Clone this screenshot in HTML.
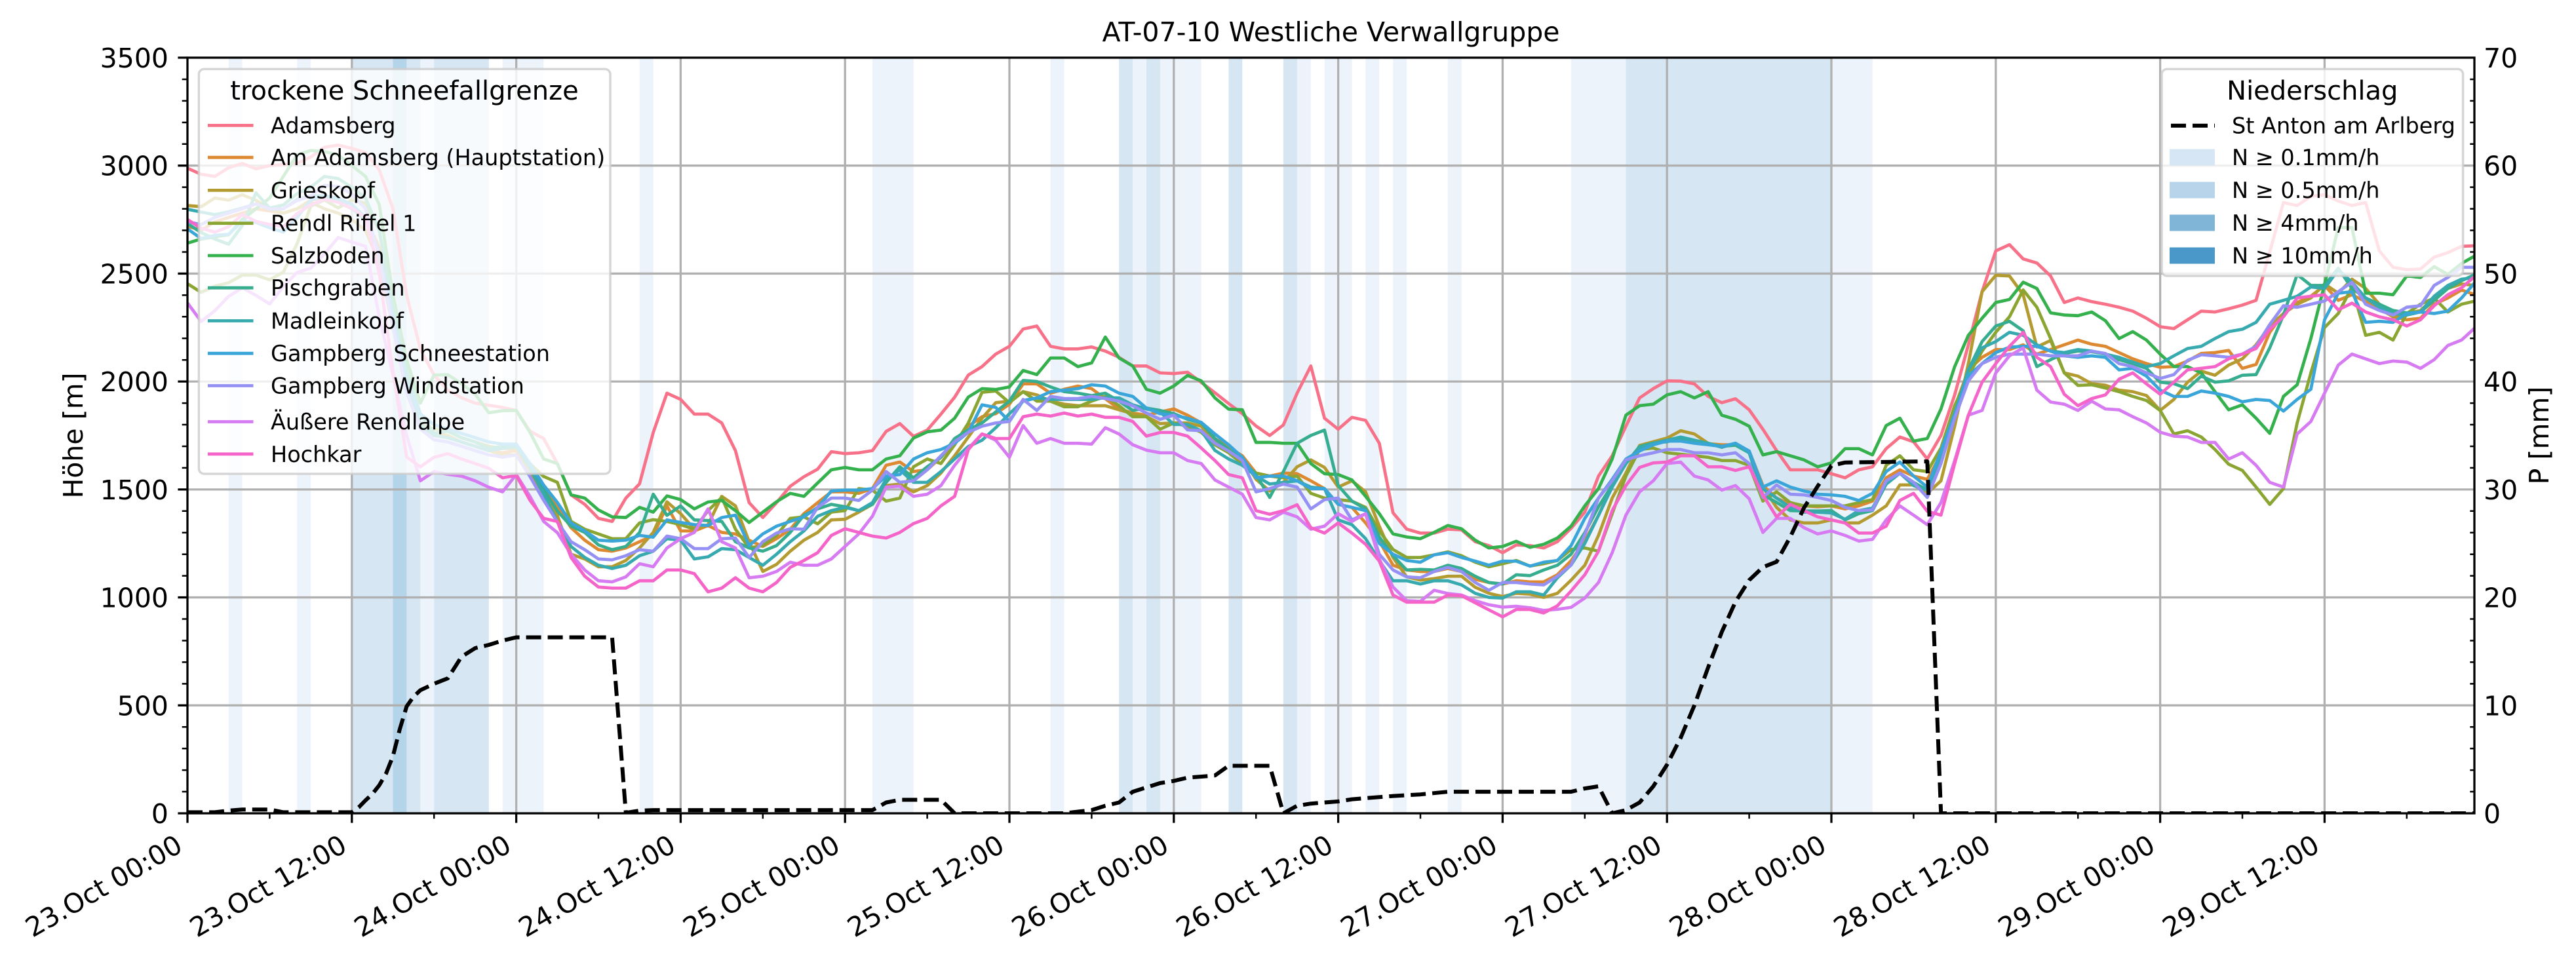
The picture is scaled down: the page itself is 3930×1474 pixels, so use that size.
<!DOCTYPE html>
<html><head><meta charset="utf-8">
<style>
html,body{margin:0;padding:0;background:#fff}
svg{display:block}
text{font-family:"DejaVu Sans","Liberation Sans",sans-serif;fill:#000}
</style></head><body>
<svg xmlns="http://www.w3.org/2000/svg" width="3930" height="1474" viewBox="0 0 3930 1474">
<rect width="3930" height="1474" fill="#fff"/>
<defs><clipPath id="ax"><rect x="286" y="88" width="3489" height="1153"/></clipPath></defs>

<!-- precipitation bands -->
<g clip-path="url(#ax)">
<g fill="#edf3fa">
<rect x="348.7" y="88" width="20.9" height="1153"/>
<rect x="453.2" y="88" width="20.9" height="1153"/>
<rect x="641.3" y="88" width="20.9" height="1153"/>
<rect x="766.7" y="88" width="62.7" height="1153"/>
<rect x="975.7" y="88" width="20.9" height="1153"/>
<rect x="1331" y="88" width="62.7" height="1153"/>
<rect x="1602.7" y="88" width="20.9" height="1153"/>
<rect x="1728.1" y="88" width="20.9" height="1153"/>
<rect x="1769.9" y="88" width="62.7" height="1153"/>
<rect x="1978.9" y="88" width="20.9" height="1153"/>
<rect x="2020.7" y="88" width="41.8" height="1153"/>
<rect x="2083.4" y="88" width="20.9" height="1153"/>
<rect x="2125.2" y="88" width="20.9" height="1153"/>
<rect x="2208.8" y="88" width="20.9" height="1153"/>
<rect x="2396.9" y="88" width="83.6" height="1153"/>
<rect x="2794" y="88" width="62.7" height="1153"/>
</g>
<g fill="#d6e6f3">
<rect x="536.8" y="88" width="62.7" height="1153"/>
<rect x="620.4" y="88" width="20.9" height="1153"/>
<rect x="662.2" y="88" width="83.6" height="1153"/>
<rect x="1707.2" y="88" width="20.9" height="1153"/>
<rect x="1749" y="88" width="20.9" height="1153"/>
<rect x="1874.4" y="88" width="20.9" height="1153"/>
<rect x="1958" y="88" width="20.9" height="1153"/>
<rect x="2480.5" y="88" width="313.5" height="1153"/>
</g>
<rect x="599.5" y="88" width="20.9" height="1153" fill="#b4d4e9"/>

<!-- grid -->
<g stroke="#b0b0b0" stroke-width="3.3" fill="none">
<path d="M536.8 88V1241M787.6 88V1241M1038.4 88V1241M1289.2 88V1241M1540 88V1241M1790.8 88V1241M2041.6 88V1241M2292.4 88V1241M2543.2 88V1241M2794 88V1241M3044.8 88V1241M3295.6 88V1241M3546.4 88V1241"/>
<path d="M286 1076.29H3775M286 911.57H3775M286 746.86H3775M286 582.14H3775M286 417.43H3775M286 252.71H3775"/>
</g>

<!-- series -->
<g transform="matrix(20.9 0 0 -0.329429 286 1241)" fill="none" stroke-width="4.8" stroke-linejoin="round">
<polyline vector-effect="non-scaling-stroke" stroke="#f77189" points="0,2988 1,2960 2,2950 3,2990 4,3010 5,2985 6,3000 7,3005 8,3010 9,3040 10,3085 11,3095 12,3080 13,3060 14,2980 15,2800 16,2400 17,2150 18,2030 19,1960 20,1925 21,1900 22,1890 23,1880 24,1866 25,1770 26,1736 27,1620 28,1475 29,1431 30,1366 31,1352 32,1460 33,1526 34,1764 35,1946 36,1917 37,1849 38,1849 39,1808 40,1680 41,1439 42,1370 43,1439 44,1515 45,1559 46,1594 47,1675 48,1666 49,1670 50,1680 51,1769 52,1805 53,1746 54,1775 55,1849 56,1927 57,2030 58,2069 59,2127 60,2163 61,2243 62,2257 63,2163 64,2151 65,2151 66,2160 67,2141 68,2112 69,2072 70,2072 71,2040 72,2037 73,2043 74,1996 75,1948 76,1898 77,1851 78,1794 79,1750 80,1799 81,1946 82,2072 83,1830 84,1779 85,1834 86,1820 87,1714 88,1392 89,1316 90,1298 91,1298 92,1316 93,1313 94,1258 95,1240 96,1207 97,1243 98,1240 99,1229 100,1258 101,1320 102,1395 103,1562 104,1656 105,1793 106,1924 107,1967 108,2003 109,2002 110,1989 111,1931 112,1902 113,1920 114,1869 115,1779 116,1680 117,1591 118,1591 119,1591 120,1573 121,1554 122,1591 123,1605 124,1689 125,1743 126,1721 127,1641 128,1750 129,1938 130,2170 131,2416 132,2605 133,2634 134,2568 135,2549 136,2489 137,2366 138,2387 139,2370 140,2358 141,2344 142,2326 143,2293 144,2254 145,2245 146,2286 147,2326 148,2322 149,2337 150,2354 151,2376 152,2600 153,2829 154,2815 155,2858 156,2865 157,2836 158,2815 159,2829 160,2605 161,2529 162,2518 163,2521 164,2576 165,2597 166,2626 167,2629"/>
<polyline vector-effect="non-scaling-stroke" stroke="#dc8932" points="0,2720 1,2700 2,2740 3,2760 4,2780 5,2800 6,2790 7,2780 8,2800 9,2840 10,2850 11,2830 12,2800 13,2760 14,2620 15,2300 16,2000 17,1800 18,1750 19,1740 20,1720 21,1700 22,1680 23,1670 24,1680 25,1600 26,1500 27,1420 28,1323 29,1265 30,1221 31,1214 32,1229 33,1258 34,1287 35,1424 36,1308 37,1308 38,1333 39,1301 40,1294 41,1265 42,1236 43,1272 44,1316 45,1388 46,1439 47,1489 48,1489 49,1482 50,1504 51,1612 52,1627 53,1583 54,1591 55,1649 56,1721 57,1793 58,1837 59,1851 60,1895 61,1989 62,1989 63,1946 64,1964 65,1979 66,1967 67,1920 68,1873 69,1854 70,1844 71,1859 72,1873 73,1844 74,1808 75,1736 76,1695 77,1656 78,1576 79,1562 80,1576 81,1573 82,1540 83,1504 84,1431 85,1417 86,1345 87,1261 88,1149 89,1127 90,1120 91,1120 92,1134 93,1120 94,1084 95,1069 96,1062 97,1077 98,1072 99,1072 100,1105 101,1170 102,1260 103,1380 104,1520 105,1620 106,1699 107,1715 108,1728 109,1728 110,1721 111,1712 112,1707 113,1707 114,1678 115,1518 116,1460 117,1431 118,1424 119,1420 120,1424 121,1410 122,1424 123,1446 124,1554 125,1591 126,1562 127,1547 128,1663 129,1880 130,2054 131,2112 132,2148 133,2148 134,2170 135,2127 136,2148 137,2170 138,2192 139,2173 140,2163 141,2134 142,2105 143,2083 144,2066 145,2069 146,2095 147,2130 148,2134 149,2144 150,2061 151,2079 152,2228 153,2315 154,2366 155,2395 156,2445 157,2376 158,2402 159,2370 160,2337 161,2300 162,2286 163,2293 164,2358 165,2387 166,2424 167,2402"/>
<polyline vector-effect="non-scaling-stroke" stroke="#b49b31" points="0,2815 1,2810 2,2850 3,2840 4,2865 5,2840 6,2800 7,2780 8,2800 9,2830 10,2800 11,2780 12,2750 13,2700 14,2550 15,2250 16,1950 17,1780 18,1760 19,1750 20,1720 21,1700 22,1680 23,1660 24,1660 25,1580 26,1480 27,1380 28,1200 29,1178 30,1142 31,1142 32,1171 33,1229 34,1301 35,1443 36,1388 37,1316 38,1337 39,1468 40,1424 41,1258 42,1120 43,1153 44,1214 45,1265 46,1301 47,1359 48,1362 49,1395 50,1431 51,1518 52,1525 53,1489 54,1518 55,1576 56,1656 57,1743 58,1830 59,1902 60,1909 61,1953 62,1938 63,1909 64,1895 65,1888 66,1888 67,1888 68,1869 69,1851 70,1837 71,1805 72,1808 73,1808 74,1793 75,1721 76,1685 77,1649 78,1547 79,1493 80,1533 81,1605 82,1637 83,1602 84,1511 85,1540 86,1489 87,1330 88,1185 89,1095 90,1080 91,1087 92,1098 93,1098 94,1047 95,1019 96,1004 97,1019 98,1015 99,1000 100,1019 101,1080 102,1149 103,1287 104,1460 105,1576 106,1704 107,1721 108,1738 109,1772 110,1757 111,1714 112,1699 113,1707 114,1670 115,1511 116,1417 117,1359 118,1345 119,1345 120,1359 121,1345 122,1345 123,1381 124,1424 125,1521 126,1521 127,1482 128,1540 129,1793 130,2083 131,2416 132,2492 133,2489 134,2402 135,2160 136,2190 137,2040 138,2025 139,1990 140,1983 141,1960 142,1953 143,1935 144,1866 145,1917 146,1997 147,2048 148,2029 149,2076 150,2105 151,2170 152,2257 153,2315 154,2358 155,2387 156,2452 157,2409 158,2474 159,2431 160,2358 161,2300 162,2315 163,2329 164,2387 165,2431 166,2452 167,2445"/>
<polyline vector-effect="non-scaling-stroke" stroke="#8aa532" points="0,2453 1,2413 2,2442 3,2457 4,2493 5,2493 6,2471 7,2507 8,2638 9,2812 10,2841 11,2804 12,2841 13,2826 14,2700 15,2350 16,2000 17,1800 18,1780 19,1770 20,1740 21,1720 22,1700 23,1690 24,1690 25,1620 26,1560 27,1533 28,1352 29,1316 30,1294 31,1272 32,1272 33,1345 34,1360 35,1352 36,1337 37,1316 38,1402 39,1463 40,1316 41,1229 42,1240 43,1287 44,1366 45,1373 46,1341 47,1395 48,1402 49,1504 50,1497 51,1446 52,1460 53,1605 54,1641 55,1620 56,1707 57,1808 58,1950 59,1956 60,1902 61,1953 62,1909 63,1909 64,1883 65,1883 66,1909 67,1931 68,1888 69,1837 70,1837 71,1779 72,1808 73,1793 74,1765 75,1707 76,1670 77,1620 78,1576 79,1562 80,1554 81,1562 82,1482 83,1460 84,1453 85,1446 86,1417 87,1308 88,1222 89,1185 90,1185 91,1197 92,1211 93,1193 94,1163 95,1142 96,1156 97,1171 98,1145 99,1156 100,1171 101,1222 102,1229 103,1214 104,1388 105,1562 106,1685 107,1692 108,1670 109,1663 110,1656 111,1649 112,1634 113,1634 114,1612 115,1446 116,1489 117,1439 118,1424 119,1424 120,1424 121,1424 122,1439 123,1453 124,1612 125,1656 126,1591 127,1583 128,1692 129,1888 130,2026 131,2141 132,2228 133,2300 134,2424 135,2344 136,2199 137,2040 138,1982 139,1985 140,1970 141,1953 142,1931 143,1912 144,1866 145,1757 146,1772 147,1743 148,1685 149,1617 150,1588 151,1511 152,1431 153,1504 154,1808 155,2040 156,2250 157,2315 158,2438 159,2214 160,2228 161,2192 162,2315 163,2358 164,2387 165,2322 166,2358 167,2373"/>
<polyline vector-effect="non-scaling-stroke" stroke="#34b04c" points="0,2641 1,2660 2,2670 3,2680 4,2750 5,2800 6,2850 7,2950 8,3050 9,3070 10,3065 11,3050 12,3000 13,2950 14,2820 15,2400 16,2100 17,1900 18,2030 19,2032 20,1990 21,1942 22,1855 23,1865 24,1866 25,1765 26,1641 27,1620 28,1475 29,1460 30,1405 31,1373 32,1370 33,1417 34,1395 35,1470 36,1453 37,1410 38,1442 39,1449 40,1402 41,1347 42,1395 43,1443 44,1482 45,1468 46,1530 47,1591 48,1602 49,1591 50,1591 51,1641 52,1656 53,1738 54,1767 55,1775 56,1830 57,1928 58,1967 59,1963 60,1975 61,2051 62,2032 63,2109 64,2109 65,2069 66,2086 67,2206 68,2109 69,2072 70,1964 71,1946 72,1979 73,2028 74,2003 75,1924 76,1872 77,1869 78,1718 79,1718 80,1714 81,1714 82,1620 83,1573 84,1569 85,1544 86,1468 87,1388 88,1294 89,1280 90,1272 91,1301 92,1333 93,1318 94,1265 95,1229 96,1236 97,1260 98,1232 99,1246 100,1275 101,1330 102,1424 103,1504 104,1641 105,1844 106,1888 107,1895 108,1938 109,1953 110,1924 111,1953 112,1844 113,1825 114,1793 115,1660 116,1675 117,1656 118,1637 119,1605 120,1623 121,1689 122,1689 123,1660 124,1796 125,1830 126,1724 127,1736 128,1873 129,2069 130,2214 131,2293 132,2366 133,2380 134,2460 135,2431 136,2318 137,2308 138,2305 139,2322 140,2282 141,2199 142,2231 143,2192 144,2127 145,2069 146,2069 147,2040 148,1953 149,1869 150,1892 151,1830 152,1760 153,1931 154,1985 155,2199 156,2450 157,2713 158,2713 159,2409 160,2409 161,2402 162,2489 163,2482 164,2532 165,2496 166,2547 167,2583"/>
<polyline vector-effect="non-scaling-stroke" stroke="#36ad8f" points="0,2732 1,2690 2,2660 3,2636 4,2722 5,2874 6,2803 7,2818 8,2870 9,2900 10,2950 11,2940 12,2900 13,2850 14,2700 15,2350 16,2050 17,1850 18,1760 19,1770 20,1740 21,1720 22,1690 23,1700 24,1700 25,1600 26,1500 27,1400 28,1330 29,1301 30,1243 31,1221 32,1236 33,1300 34,1478 35,1380 36,1424 37,1359 38,1356 39,1352 40,1258 41,1229 42,1214 43,1240 44,1301 45,1381 46,1410 47,1431 48,1420 49,1402 50,1431 51,1533 52,1605 53,1554 54,1605 55,1649 56,1736 57,1776 58,1808 59,1859 60,1909 61,2005 62,2000 63,1975 64,1953 65,1946 66,1935 67,1946 68,1909 69,1866 70,1877 71,1866 72,1851 73,1825 74,1808 75,1736 76,1685 77,1634 78,1569 79,1463 80,1583 81,1714 82,1750 83,1775 84,1518 85,1446 86,1410 87,1280 88,1193 89,1127 90,1130 91,1127 92,1149 93,1134 94,1098 95,1069 96,1062 97,1105 98,1101 99,1127 100,1149 101,1200 102,1300 103,1420 104,1520 105,1620 106,1699 107,1715 108,1721 109,1735 110,1725 111,1712 112,1700 113,1705 114,1670 115,1475 116,1440 117,1402 118,1400 119,1400 120,1402 121,1359 122,1388 123,1402 124,1525 125,1576 126,1533 127,1497 128,1641 129,1850 130,2054 131,2185 132,2257 133,2279 134,2235 135,2069 136,2101 137,2130 138,2141 139,2138 140,2127 141,2101 142,2083 143,2061 144,1997 145,1990 146,1967 147,2025 148,1997 149,2003 150,2029 151,2032 152,2156 153,2308 154,2496 155,2445 156,2445 157,2525 158,2431 159,2387 160,2358 161,2329 162,2318 163,2322 164,2376 165,2431 166,2467 167,2496"/>
<polyline vector-effect="non-scaling-stroke" stroke="#37aab0" points="0,2798 1,2785 2,2773 3,2786 4,2803 5,2823 6,2798 7,2800 8,2843 9,2860 10,2860 11,2840 12,2800 13,2750 14,2600 15,2300 16,2000 17,1800 18,1750 19,1740 20,1720 21,1700 22,1680 23,1690 24,1700 25,1600 26,1480 27,1350 28,1236 29,1185 30,1149 31,1134 32,1149 33,1193 34,1214 35,1272 36,1265 37,1178 38,1188 39,1226 40,1221 41,1185 42,1149 43,1200 44,1258 45,1308 46,1376 47,1402 48,1417 49,1402 50,1439 51,1547 52,1591 53,1533 54,1533 55,1583 56,1641 57,1699 58,1728 59,1786 60,1851 61,1909 62,1924 63,1917 64,1917 65,1917 66,1917 67,1925 68,1924 69,1892 70,1873 71,1859 72,1801 73,1801 74,1772 75,1681 76,1641 77,1612 78,1562 79,1525 80,1533 81,1540 82,1511 83,1504 84,1359 85,1337 86,1272 87,1171 88,1077 89,1077 90,1062 91,1077 92,1077 93,1058 94,1019 95,1000 96,997 97,1026 98,1026 99,1011 100,1091 101,1150 102,1250 103,1380 104,1511 105,1620 106,1692 107,1714 108,1728 109,1743 110,1728 111,1714 112,1695 113,1714 114,1670 115,1504 116,1460 117,1417 118,1395 119,1395 120,1391 121,1362 122,1402 123,1414 124,1525 125,1576 126,1518 127,1497 128,1641 129,1837 130,2054 131,2156 132,2185 133,2228 134,2214 135,2170 136,2141 137,2134 138,2148 139,2141 140,2127 141,2112 142,2090 143,2069 144,2083 145,2119 146,2153 147,2163 148,2199 149,2231 150,2242 151,2274 152,2358 153,2376 154,2395 155,2438 156,2431 157,2518 158,2460 159,2387 160,2344 161,2315 162,2308 163,2322 164,2395 165,2445 166,2474 167,2481"/>
<polyline vector-effect="non-scaling-stroke" stroke="#3aa5d8" points="0,2707 1,2662 2,2677 3,2682 4,2742 5,2737 6,2712 7,2692 8,2760 9,2840 10,2860 11,2850 12,2820 13,2760 14,2600 15,2300 16,2000 17,1850 18,1800 19,1780 20,1760 21,1740 22,1720 23,1710 24,1710 25,1620 26,1520 27,1440 28,1345 29,1308 30,1265 31,1261 32,1265 33,1287 34,1279 35,1359 36,1347 37,1337 38,1333 39,1370 40,1381 41,1240 42,1294 43,1330 44,1352 45,1373 46,1417 47,1493 48,1497 49,1497 50,1504 51,1562 52,1569 53,1641 54,1670 55,1685 56,1714 57,1765 58,1892 59,1880 60,1815 61,1912 62,1924 63,1953 64,1960 65,1967 66,1985 67,1979 68,1946 69,1931 70,1877 71,1851 72,1844 73,1830 74,1811 75,1757 76,1707 77,1649 78,1554 79,1562 80,1562 81,1540 82,1504 83,1504 84,1431 85,1417 86,1402 87,1250 88,1200 89,1171 90,1163 91,1197 92,1207 93,1185 94,1168 95,1149 96,1168 97,1168 98,1145 99,1163 100,1171 101,1240 102,1366 103,1460 104,1547 105,1641 106,1678 107,1707 108,1724 109,1724 110,1714 111,1707 112,1699 113,1714 114,1678 115,1511 116,1540 117,1511 118,1493 119,1478 120,1475 121,1468 122,1449 123,1482 124,1583 125,1627 126,1562 127,1511 128,1678 129,1851 130,2026 131,2083 132,2134 133,2159 134,2163 135,2163 136,2141 137,2119 138,2112 139,2119 140,2112 141,2054 142,2061 143,2025 144,1960 145,1931 146,1931 147,1956 148,1946 149,1931 150,1906 151,1917 152,1912 153,1863 154,1917 155,1964 156,2286 157,2409 158,2416 159,2274 160,2279 161,2274 162,2315 163,2322 164,2315 165,2326 166,2387 167,2460"/>
<polyline vector-effect="non-scaling-stroke" stroke="#9591f4" points="0,2740 1,2727 2,2760 3,2780 4,2800 5,2823 6,2800 7,2800 8,2838 9,2859 10,2909 11,2904 12,2869 13,2800 14,2580 15,2250 16,1950 17,1780 18,1730 19,1720 20,1700 21,1680 22,1660 23,1650 24,1660 25,1560 26,1450 27,1350 28,1258 29,1221 30,1178 31,1174 32,1193 33,1221 34,1214 35,1284 36,1272 37,1226 38,1226 39,1272 40,1275 41,1185 42,1258 43,1298 44,1318 45,1316 46,1417 47,1460 48,1460 49,1449 50,1497 51,1583 52,1533 53,1540 54,1591 55,1656 56,1721 57,1765 58,1793 59,1808 60,1815 61,1917 62,1866 63,1931 64,1921 65,1921 66,1931 67,1921 68,1909 69,1888 70,1854 71,1825 72,1844 73,1776 74,1772 75,1714 76,1678 77,1634 78,1489 79,1504 80,1525 81,1511 82,1410 83,1453 84,1460 85,1359 86,1388 87,1200 88,1127 89,1095 90,1091 91,1120 92,1139 93,1120 94,1069 95,1033 96,1069 97,1069 98,1062 99,1058 100,1098 101,1150 102,1290 103,1460 104,1540 105,1637 106,1656 107,1670 108,1685 109,1685 110,1670 111,1670 112,1660 113,1670 114,1620 115,1463 116,1521 117,1478 118,1475 119,1463 120,1449 121,1417 122,1402 123,1405 124,1540 125,1576 126,1533 127,1463 128,1620 129,1830 130,2003 131,2083 132,2112 133,2127 134,2127 135,2127 136,2119 137,2119 138,2119 139,2141 140,2130 141,2083 142,2069 143,2040 144,2014 145,2032 146,2098 147,2124 148,2119 149,2112 150,2127 151,2163 152,2264 153,2351 154,2344 155,2358 156,2373 157,2416 158,2460 159,2358 160,2329 161,2308 162,2344 163,2351 164,2445 165,2482 166,2529 167,2529"/>
<polyline vector-effect="non-scaling-stroke" stroke="#d67bf2" points="0,2364 1,2278 2,2328 3,2394 4,2434 5,2399 6,2359 7,2440 8,2505 9,2525 10,2591 11,2667 12,2646 13,2626 14,2300 15,2029 16,1750 17,1540 18,1583 19,1570 20,1562 21,1540 22,1510 23,1489 24,1569 25,1468 26,1352 27,1300 28,1200 29,1127 30,1077 31,1072 32,1095 33,1156 34,1142 35,1229 36,1272 37,1301 38,1410 39,1258 40,1229 41,1091 42,1098 43,1120 44,1163 45,1149 46,1149 47,1178 48,1236 49,1294 50,1376 51,1511 52,1515 53,1468 54,1478 55,1518 56,1612 57,1690 58,1757 59,1728 60,1649 61,1796 62,1714 63,1736 64,1714 65,1714 66,1710 67,1786 68,1757 69,1707 70,1682 71,1670 72,1670 73,1634 74,1620 75,1544 76,1511 77,1478 78,1370 79,1359 80,1395 81,1373 82,1316 83,1330 84,1388 85,1352 86,1388 87,1178 88,1048 89,985 90,982 91,1033 92,1018 93,1011 94,985 95,966 96,955 97,959 98,952 99,940 100,945 101,954 102,997 103,1069 104,1207 105,1381 106,1489 107,1540 108,1620 109,1627 110,1562 111,1544 112,1497 113,1518 114,1457 115,1301 116,1366 117,1366 118,1323 119,1294 120,1308 121,1287 122,1261 123,1269 124,1359 125,1424 126,1381 127,1337 128,1439 129,1634 130,1844 131,1866 132,2040 133,2119 134,2156 135,1960 136,1905 137,1895 138,1866 139,1909 140,1873 141,1869 142,1837 143,1808 144,1765 145,1747 146,1743 147,1718 148,1718 149,1641 150,1670 151,1612 152,1533 153,1511 154,1757 155,1815 156,1946 157,2076 158,2127 159,2105 160,2083 161,2095 162,2090 163,2061 164,2101 165,2167 166,2192 167,2250"/>
<polyline vector-effect="non-scaling-stroke" stroke="#f564c9" points="0,2750 1,2710 2,2692 3,2717 4,2773 5,2742 6,2727 7,2717 8,2778 9,2818 10,2843 11,2830 12,2803 13,2760 14,2500 15,2050 16,1650 17,1605 18,1649 19,1666 20,1641 21,1620 22,1598 23,1554 24,1565 25,1450 26,1366 27,1352 28,1185 29,1098 30,1048 31,1043 32,1043 33,1077 34,1077 35,1127 36,1127 37,1110 38,1026 39,1043 40,1091 41,1043 42,1026 43,1069 44,1139 45,1171 46,1207 47,1287 48,1318 49,1301 50,1284 51,1275 52,1301 53,1342 54,1366 55,1424 56,1468 57,1685 58,1757 59,1736 60,1736 61,1837 62,1849 63,1840 64,1854 65,1840 66,1849 67,1834 68,1834 69,1815 70,1747 71,1764 72,1764 73,1747 74,1692 75,1634 76,1569 77,1554 78,1402 79,1385 80,1402 81,1429 82,1323 83,1298 84,1345 85,1298 86,1246 87,1168 88,1011 89,978 90,978 91,978 92,1011 93,1008 94,975 95,942 96,910 97,944 98,944 99,928 100,961 101,1030 102,1105 103,1214 104,1402 105,1518 106,1602 107,1623 108,1627 109,1656 110,1656 111,1605 112,1605 113,1588 114,1605 115,1475 116,1373 117,1431 118,1402 119,1373 120,1359 121,1345 122,1298 123,1298 124,1330 125,1449 126,1482 127,1399 128,1381 129,1620 130,1844 131,1997 132,2083 133,2163 134,2228 135,2112 136,2069 137,1941 138,1888 139,1921 140,1938 141,2011 142,2040 143,1989 144,1941 145,1997 146,2054 147,2061 148,2069 149,2105 150,2127 151,2153 152,2242 153,2300 154,2387 155,2395 156,2402 157,2332 158,2363 159,2322 160,2300 161,2286 162,2257 163,2286 164,2351 165,2402 166,2434 167,2489"/>
</g>

<!-- dashed precipitation line (right axis) -->
<polyline fill="none" stroke="#000" stroke-width="6" stroke-dasharray="23 10" stroke-linejoin="round" points="286,1239.4 327.8,1239.4 348.7,1236.9 369.6,1235.2 411.4,1235.2 432.3,1239.4 536.8,1239.4 547.25,1231.9 557.7,1221.2 568.15,1211.4 578.6,1198.2 589.05,1180.1 599.5,1153.7 609.95,1112.5 620.4,1077.9 630.85,1063.1 641.3,1053.2 662.2,1043.3 683.1,1035.1 704,1002.2 724.9,989 745.8,984 766.7,977.5 787.6,972.5 933.9,972.5 954.8,1240.2 975.7,1236.9 996.6,1236.1 1331,1236.1 1351.9,1224.5 1372.8,1220.4 1435.5,1220.4 1456.4,1241 1623.6,1241 1644.5,1238.5 1665.4,1236.1 1686.3,1229.5 1707.2,1224.5 1728.1,1208.1 1749,1201.5 1769.9,1194.9 1790.8,1191.6 1811.7,1186.6 1832.6,1185 1853.5,1183.3 1874.4,1168.5 1937.1,1168.5 1958,1241 1978.9,1229.5 1999.8,1226.2 2020.7,1224.5 2041.6,1222.9 2062.5,1219.6 2083.4,1217.9 2125.2,1214.6 2167,1212.2 2208.8,1208.1 2396.9,1208.1 2417.8,1203.1 2438.7,1199.8 2459.6,1241 2480.5,1236.1 2501.4,1224.5 2522.3,1199.8 2543.2,1166.9 2564.1,1125.7 2585,1076.3 2605.9,1018.6 2626.8,964.3 2647.7,918.2 2668.6,885.2 2689.5,865.4 2710.4,857.2 2731.3,819.3 2752.2,774.9 2773.1,741.9 2794,710.6 2814.9,705.7 2940.3,704 2961.2,1241 3776.3,1241"/>
</g>

<!-- left legend -->
<rect x="303.4" y="105.4" width="627.6" height="617.6" rx="8" fill="#fff" fill-opacity="0.8" stroke="#cccccc" stroke-opacity="0.8" stroke-width="3.5"/>
<text x="617" y="152" font-size="40" text-anchor="middle">trockene Schneefallgrenze</text>
<g stroke-width="4.8">
<line x1="317" y1="191.4" x2="386.5" y2="191.4" stroke="#f77189"/>
<line x1="317" y1="240.2" x2="386.5" y2="240.2" stroke="#dc8932"/>
<line x1="317" y1="290.4" x2="386.5" y2="290.4" stroke="#b49b31"/>
<line x1="317" y1="340.7" x2="386.5" y2="340.7" stroke="#8aa532"/>
<line x1="317" y1="390" x2="386.5" y2="390" stroke="#34b04c"/>
<line x1="317" y1="439.2" x2="386.5" y2="439.2" stroke="#36ad8f"/>
<line x1="317" y1="489.5" x2="386.5" y2="489.5" stroke="#37aab0"/>
<line x1="317" y1="539.2" x2="386.5" y2="539.2" stroke="#3aa5d8"/>
<line x1="317" y1="588.5" x2="386.5" y2="588.5" stroke="#9591f4"/>
<line x1="317" y1="643.5" x2="386.5" y2="643.5" stroke="#d67bf2"/>
<line x1="317" y1="692.8" x2="386.5" y2="692.8" stroke="#f564c9"/>
</g>
<g font-size="33.5">
<text x="413" y="203.4">Adamsberg</text>
<text x="413" y="252.2">Am Adamsberg (Hauptstation)</text>
<text x="413" y="302.4">Grieskopf</text>
<text x="413" y="352.7">Rendl Riffel 1</text>
<text x="413" y="402">Salzboden</text>
<text x="413" y="451.2">Pischgraben</text>
<text x="413" y="501.5">Madleinkopf</text>
<text x="413" y="551.2">Gampberg Schneestation</text>
<text x="413" y="600.5">Gampberg Windstation</text>
<text x="413" y="655.5">Äußere Rendlalpe</text>
<text x="413" y="704.8">Hochkar</text>
</g>

<!-- right legend -->
<rect x="3298" y="105.4" width="459.6" height="315.6" rx="8" fill="#fff" fill-opacity="0.8" stroke="#cccccc" stroke-opacity="0.8" stroke-width="3.5"/>
<text x="3527.8" y="152" font-size="40" text-anchor="middle">Niederschlag</text>
<line x1="3312" y1="191.7" x2="3379" y2="191.7" stroke="#000" stroke-width="6" stroke-dasharray="23 10"/>
<rect x="3310" y="227.5" width="69" height="25" fill="#d7e6f4"/>
<rect x="3310" y="277.5" width="69" height="25" fill="#b8d4ea"/>
<rect x="3310" y="327.5" width="69" height="25" fill="#80b5d8"/>
<rect x="3310" y="377.5" width="69" height="25" fill="#4a97c9"/>
<g font-size="33.5">
<text x="3405" y="203.7">St Anton am Arlberg</text>
<text x="3405" y="252">N ≥ 0.1mm/h</text>
<text x="3405" y="302">N ≥ 0.5mm/h</text>
<text x="3405" y="352">N ≥ 4mm/h</text>
<text x="3405" y="402">N ≥ 10mm/h</text>
</g>

<!-- spines -->
<rect x="286" y="88" width="3489" height="1153" fill="none" stroke="#000" stroke-width="3.3"/>

<!-- ticks -->
<g stroke="#000" fill="none">
<path stroke-width="3.3" d="M271.4 1241H286M271.4 1076.29H286M271.4 911.57H286M271.4 746.86H286M271.4 582.14H286M271.4 417.43H286M271.4 252.71H286M271.4 88H286"/>
<path stroke-width="2.5" d="M277.7 1208.06H286M277.7 1175.11H286M277.7 1142.17H286M277.7 1109.23H286M277.7 1043.34H286M277.7 1010.4H286M277.7 977.46H286M277.7 944.51H286M277.7 878.63H286M277.7 845.69H286M277.7 812.74H286M277.7 779.8H286M277.7 713.91H286M277.7 680.97H286M277.7 648.03H286M277.7 615.08H286M277.7 549.2H286M277.7 516.25H286M277.7 483.31H286M277.7 450.37H286M277.7 384.48H286M277.7 351.54H286M277.7 318.6H286M277.7 285.65H286M277.7 219.77H286M277.7 186.82H286M277.7 153.88H286M277.7 120.94H286"/>
<path stroke-width="2.5" d="M3768.3 1208.06H3775M3768.3 1175.11H3775M3768.3 1142.17H3775M3768.3 1109.23H3775M3768.3 1043.34H3775M3768.3 1010.4H3775M3768.3 977.46H3775M3768.3 944.51H3775M3768.3 878.63H3775M3768.3 845.69H3775M3768.3 812.74H3775M3768.3 779.8H3775M3768.3 713.91H3775M3768.3 680.97H3775M3768.3 648.03H3775M3768.3 615.08H3775M3768.3 549.2H3775M3768.3 516.25H3775M3768.3 483.31H3775M3768.3 450.37H3775M3768.3 384.48H3775M3768.3 351.54H3775M3768.3 318.6H3775M3768.3 285.65H3775M3768.3 219.77H3775M3768.3 186.82H3775M3768.3 153.88H3775M3768.3 120.94H3775"/>
<path stroke-width="3.3" d="M286 1241V1255.6M536.8 1241V1255.6M787.6 1241V1255.6M1038.4 1241V1255.6M1289.2 1241V1255.6M1540 1241V1255.6M1790.8 1241V1255.6M2041.6 1241V1255.6M2292.4 1241V1255.6M2543.2 1241V1255.6M2794 1241V1255.6M3044.8 1241V1255.6M3295.6 1241V1255.6M3546.4 1241V1255.6"/>
<path stroke-width="2.5" d="M411.4 1241V1249.3M662.2 1241V1249.3M913 1241V1249.3M1163.8 1241V1249.3M1414.6 1241V1249.3M1665.4 1241V1249.3M1916.2 1241V1249.3M2167 1241V1249.3M2417.8 1241V1249.3M2668.6 1241V1249.3M2919.4 1241V1249.3M3170.2 1241V1249.3M3421 1241V1249.3M3671.8 1241V1249.3"/>
</g>

<!-- left tick labels -->
<g font-size="41" text-anchor="end">
<text x="257" y="1256">0</text>
<text x="257" y="1091.3">500</text>
<text x="257" y="926.6">1000</text>
<text x="257" y="761.9">1500</text>
<text x="257" y="597.1">2000</text>
<text x="257" y="432.4">2500</text>
<text x="257" y="267.7">3000</text>
<text x="257" y="103">3500</text>
</g>
<!-- right tick labels -->
<g font-size="41" text-anchor="start">
<text x="3789" y="1256">0</text>
<text x="3789" y="1091.3">10</text>
<text x="3789" y="926.6">20</text>
<text x="3789" y="761.9">30</text>
<text x="3789" y="597.1">40</text>
<text x="3789" y="432.4">50</text>
<text x="3789" y="267.7">60</text>
<text x="3789" y="103">70</text>
</g>
<!-- x tick labels -->
<g font-size="41" text-anchor="end">
<text transform="translate(281.1 1297.5) rotate(-30)">23.Oct 00:00</text>
<text transform="translate(531.9 1297.5) rotate(-30)">23.Oct 12:00</text>
<text transform="translate(782.7 1297.5) rotate(-30)">24.Oct 00:00</text>
<text transform="translate(1033.5 1297.5) rotate(-30)">24.Oct 12:00</text>
<text transform="translate(1284.3 1297.5) rotate(-30)">25.Oct 00:00</text>
<text transform="translate(1535.1 1297.5) rotate(-30)">25.Oct 12:00</text>
<text transform="translate(1785.9 1297.5) rotate(-30)">26.Oct 00:00</text>
<text transform="translate(2036.7 1297.5) rotate(-30)">26.Oct 12:00</text>
<text transform="translate(2287.5 1297.5) rotate(-30)">27.Oct 00:00</text>
<text transform="translate(2538.3 1297.5) rotate(-30)">27.Oct 12:00</text>
<text transform="translate(2789.1 1297.5) rotate(-30)">28.Oct 00:00</text>
<text transform="translate(3039.9 1297.5) rotate(-30)">28.Oct 12:00</text>
<text transform="translate(3290.7 1297.5) rotate(-30)">29.Oct 00:00</text>
<text transform="translate(3541.5 1297.5) rotate(-30)">29.Oct 12:00</text>
</g>

<!-- axis labels & title -->
<text transform="translate(126 664.5) rotate(-90)" font-size="41" text-anchor="middle">Höhe [m]</text>
<text transform="translate(3888 664.5) rotate(-90)" font-size="41" text-anchor="middle">P [mm]</text>
<text x="2030.5" y="63" font-size="41" text-anchor="middle">AT-07-10 Westliche Verwallgruppe</text>
</svg>
</body></html>
